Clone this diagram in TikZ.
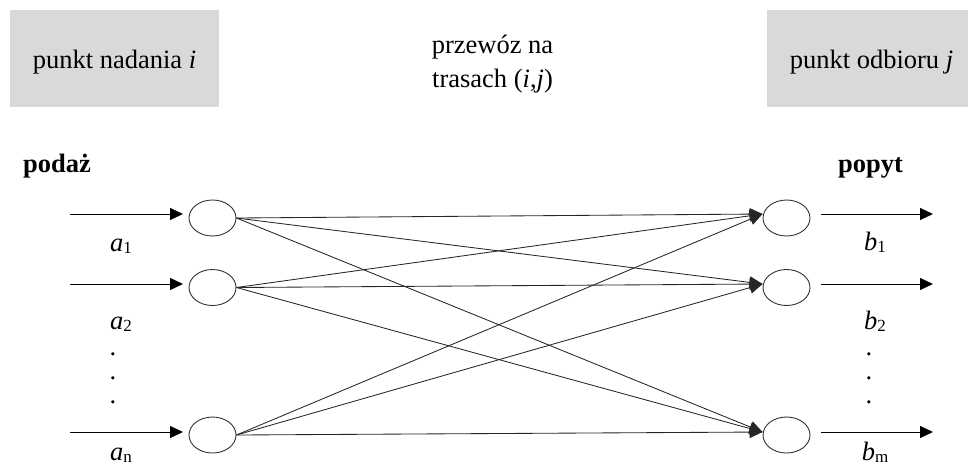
\documentclass[tikz,border=0pt]{standalone}
\usepackage{fontspec}
\setmainfont{Liberation Serif}
\usetikzlibrary{shapes.geometric,arrows.meta}
\definecolor{boxgray}{HTML}{D9D9D9}
\newcommand\flowlab[2]{\textit{#1}\raisebox{-2.5pt}{\fontsize{17}{17}\selectfont #2}}
\begin{document}
\begin{tikzpicture}[x=1pt,y=-1pt,
  every node/.style={font=\fontsize{26.5}{34}\selectfont},
  hdr/.style={fill=boxgray, inner sep=0, anchor=north west, minimum height=97pt},
  ell/.style={draw=black!80, line width=0.9pt, ellipse, minimum width=47pt, minimum height=36pt, inner sep=0},
  flow/.style={line width=0.9pt, -{Triangle[length=13pt,width=12pt]}},
  route/.style={draw=black!85, line width=0.85pt, -{Triangle[length=13pt,width=12pt]}},
  lbl/.style={anchor=base, inner sep=0}
]
\useasboundingbox (0,0) rectangle (968,467);
% header boxes
\node[hdr, minimum width=209pt] (boxL) at (10,10) {};
\node[hdr, minimum width=201pt] (boxR) at (767,10) {};
\node[lbl] (tL) at (114.5,68) {punkt nadania \textit{i}};
\node[lbl] (tR) at (871.5,68) {punkt odbioru \textit{j}};
\node[align=center, inner sep=0] (tC) at (492.5,64) {przewóz na\\trasach (\textit{i},\textit{j})};
% headings
\node[lbl, anchor=base west] (pod) at (23,172) {\bfseries podaż};
\node[lbl, anchor=base west] (pop) at (838,172) {\bfseries popyt};
% ellipses
\node[ell] (L1) at (212.5,218) {};
\node[ell] (L2) at (212.5,287.5) {};
\node[ell] (L3) at (212.5,435) {};
\node[ell] (R1) at (786.5,218) {};
\node[ell] (R2) at (786.5,287.5) {};
\node[ell] (R3) at (786.5,435) {};
% arrow end coordinates
\coordinate (T1) at ([yshift=4pt]R1.west);
\coordinate (T2) at ([yshift=3.5pt]R2.west);
\coordinate (T3) at ([yshift=3pt]R3.west);
\coordinate (s1) at (70,214);
\coordinate (s2) at (70,284);
\coordinate (s3) at (70,432);
\coordinate (e1) at (183,214);
\coordinate (e2) at (183,284);
\coordinate (e3) at (183,432);
\coordinate (o1) at (821,214);
\coordinate (o2) at (821,284);
\coordinate (o3) at (821,432);
\coordinate (f1) at (933,214);
\coordinate (f2) at (933,284);
\coordinate (f3) at (933,432);
% supply / demand arrows
\foreach \k in {1,2,3}{
  \draw[flow] (s\k) -- (e\k);
  \draw[flow] (o\k) -- (f\k);
}
% routes
\foreach \i in {1,2,3}{
  \foreach \j in {1,2,3}{
    \draw[route] (L\i.east) -- (T\j);
  }
}
% labels
\node[lbl] (a1) at (121,251) {\flowlab{a}{1}};
\node[lbl] (a2) at (121,329) {\flowlab{a}{2}};
\node[lbl] (an) at (121,460) {\flowlab{a}{n}};
\node[lbl] (b1) at (875,250) {\flowlab{b}{1}};
\node[lbl] (b2) at (875,329) {\flowlab{b}{2}};
\node[lbl] (bm) at (875,460) {\flowlab{b}{m}};
\foreach \yy [count=\n] in {355,379,403}{
  \node[lbl] (da\n) at (113,\yy) {.};
  \node[lbl] (db\n) at (869,\yy) {.};
}
\end{tikzpicture}
\end{document}
